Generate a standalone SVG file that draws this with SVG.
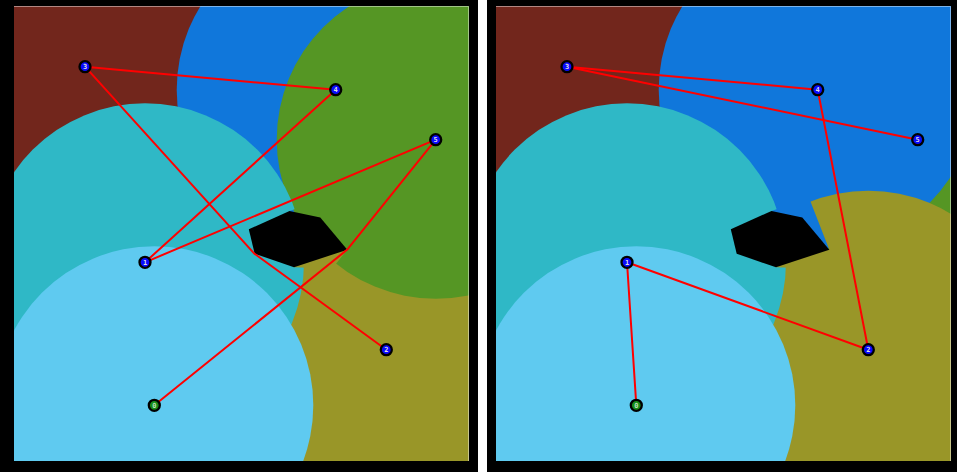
<svg xmlns="http://www.w3.org/2000/svg" width="957" height="472" viewBox="0 0 957 472">
<style>
.edge{fill:none;stroke:#ff0000;stroke-width:2;stroke-linejoin:round;stroke-linecap:round}
.nd{stroke:#000;stroke-width:2.3}
.b{fill:#0a0aff}
.g{fill:#188c18}
.lbl{font-family:"DejaVu Sans Mono",monospace;font-size:7px;font-weight:bold;text-anchor:middle;fill:#dcdcdc}
.lblg{fill:#b8e0b8}
.c3{fill:#72261c}
.c4{fill:#1077db}
.c5{fill:#559624}
.c2{fill:#999628}
.c1{fill:#2fb8c6}
.c0{fill:#5fcaf0}
.obs{fill:#000}
.rim{stroke:#fff;stroke-opacity:0.45;stroke-width:1;fill:none}
</style>
<defs>
<clipPath id="panel"><rect x="14" y="6" width="455" height="455"/></clipPath>
<clipPath id="sh1"><path clip-rule="evenodd" d="M-2000,-2000H3000V3000H-2000Z M289.5,211 L723,57.1 L741,282.3 L294,267.3Z"/></clipPath>
<clipPath id="sh4"><path clip-rule="evenodd" d="M-2000,-2000H3000V3000H-2000Z M347.3,249.7 L382.1,729.7 L-12,648.1 L248.8,229.3Z"/></clipPath>
<clipPath id="sh5"><path clip-rule="evenodd" d="M-2000,-2000H3000V3000H-2000Z M347.3,249.7 L82.1,579.7 L-311.9,498.1 L248.8,229.3Z"/></clipPath>
<clipPath id="sh2"><path clip-rule="evenodd" d="M-2000,-2000H3000V3000H-2000Z M347.3,249.7 L230.3,-50.3 L-140.1,-34.3 L254.7,253.7Z"/></clipPath>
<polygon id="obstacle" points="289.5,211 320.3,217.5 347.3,249.7 294,267.3 254.7,253.7 248.8,229.3"/>
</defs>
<rect x="0" y="0" width="957" height="472" fill="#fff"/>
<rect x="0" y="0" width="478" height="472" fill="#000"/>
<rect x="487" y="0" width="470" height="472" fill="#000"/>

<!-- LEFT PANEL -->
<g id="panelLeft">
<g id="regionsLeft" clip-path="url(#panel)">
<circle class="c3" cx="85" cy="66.7" r="159"/>
<circle class="c4" cx="335.7" cy="89.7" r="159" clip-path="url(#sh4)"/>
<circle class="c2" cx="386.3" cy="349.7" r="159" clip-path="url(#sh2)"/>
<circle class="c5" cx="435.7" cy="139.7" r="159" clip-path="url(#sh5)"/>
<circle class="c1" cx="145" cy="262.3" r="159" clip-path="url(#sh1)"/>
<circle class="c0" cx="154.3" cy="405.3" r="159"/>
<use href="#obstacle" class="obs"/>
</g>
<path class="rim" d="M14,6.5H468.5V461"/>
<g id="edgesLeft">
<path class="edge" d="M85,66.7L335.7,89.7"/>
<path class="edge" d="M85,66.7L254.3,253.6L386.3,349.7"/>
<path class="edge" d="M335.7,89.7L145,262.3"/>
<path class="edge" d="M145,262.3L435.7,139.7"/>
<path class="edge" d="M435.7,139.7L347,249.8L154.3,405.3"/>
</g>
<g id="nodeL0"><circle class="nd g" cx="154.3" cy="405.3" r="5.5"/><text class="lbl lblg" x="154.3" y="407.8">0</text></g>
<g id="nodeL1"><circle class="nd b" cx="145" cy="262.3" r="5.5"/><text class="lbl" x="145" y="264.8">1</text></g>
<g id="nodeL2"><circle class="nd b" cx="386.3" cy="349.7" r="5.5"/><text class="lbl" x="386.3" y="352.2">2</text></g>
<g id="nodeL3"><circle class="nd b" cx="85" cy="66.7" r="5.5"/><text class="lbl" x="85" y="69.2">3</text></g>
<g id="nodeL4"><circle class="nd b" cx="335.7" cy="89.7" r="5.5"/><text class="lbl" x="335.7" y="92.2">4</text></g>
<g id="nodeL5"><circle class="nd b" cx="435.7" cy="139.7" r="5.5"/><text class="lbl" x="435.7" y="142.2">5</text></g>
</g>

<!-- RIGHT PANEL -->
<g id="panelRight" transform="translate(482,0)">
<g id="regionsRight" clip-path="url(#panel)">
<circle class="c3" cx="85" cy="66.7" r="159"/>
<circle class="c5" cx="435.7" cy="139.7" r="159" clip-path="url(#sh5)"/>
<circle class="c4" cx="335.7" cy="89.7" r="159" clip-path="url(#sh4)"/>
<circle class="c2" cx="386.3" cy="349.7" r="159" clip-path="url(#sh2)"/>
<circle class="c1" cx="145" cy="262.3" r="159" clip-path="url(#sh1)"/>
<circle class="c0" cx="154.3" cy="405.3" r="159"/>
<use href="#obstacle" class="obs"/>
</g>
<path class="rim" d="M14,6.5H468.5V461"/>
<g id="edgesRight">
<path class="edge" d="M85,66.7L335.7,89.7"/>
<path class="edge" d="M85,66.7L435.7,139.7"/>
<path class="edge" d="M335.7,89.7L386.3,349.7"/>
<path class="edge" d="M145,262.3L386.3,349.7"/>
<path class="edge" d="M145,262.3L154.3,405.3"/>
</g>
<g id="nodeR0"><circle class="nd g" cx="154.3" cy="405.3" r="5.5"/><text class="lbl lblg" x="154.3" y="407.8">0</text></g>
<g id="nodeR1"><circle class="nd b" cx="145" cy="262.3" r="5.5"/><text class="lbl" x="145" y="264.8">1</text></g>
<g id="nodeR2"><circle class="nd b" cx="386.3" cy="349.7" r="5.5"/><text class="lbl" x="386.3" y="352.2">2</text></g>
<g id="nodeR3"><circle class="nd b" cx="85" cy="66.7" r="5.5"/><text class="lbl" x="85" y="69.2">3</text></g>
<g id="nodeR4"><circle class="nd b" cx="335.7" cy="89.7" r="5.5"/><text class="lbl" x="335.7" y="92.2">4</text></g>
<g id="nodeR5"><circle class="nd b" cx="435.7" cy="139.7" r="5.5"/><text class="lbl" x="435.7" y="142.2">5</text></g>
</g>
</svg>
